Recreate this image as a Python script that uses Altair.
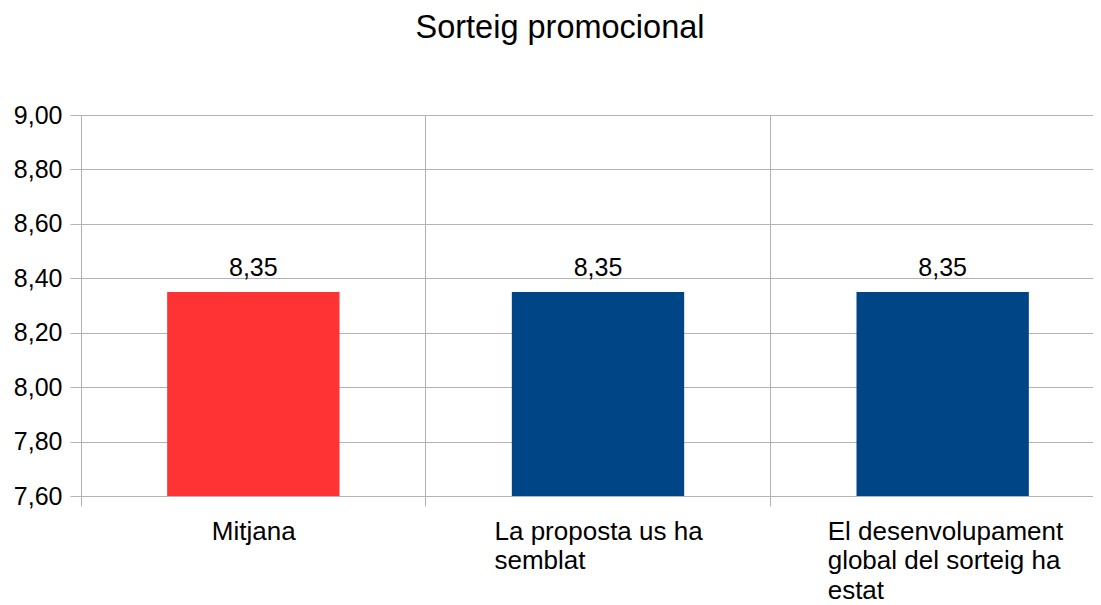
import altair as alt
import pandas as pd

# ---- data ----
categories = ["Mitjana", "La proposta us ha semblat", "El desenvolupament global del sorteig ha estat"]
values = [8.35, 8.35, 8.35]
bar_colors = ["#FF3333", "#004586", "#004586"]
label_lines = [["Mitjana"], ["La proposta us ha", "semblat"],
               ["El desenvolupament", "global del sorteig ha", "estat"]]
label_offsets = [-41.5, -103.5, -115]
y_ticks = [7.6, 7.8, 8.0, 8.2, 8.4, 8.6, 8.8, 9.0]
y_domain = [7.6, 9.0]
title_text = "Sorteig promocional"

df = pd.DataFrame({"cat": categories, "value": values})

FONT = "Liberation Sans"
GRID = "#b3b3b3"

# label expression -> multi-line arrays
expr = "''"
for c, lines in reversed(list(zip(categories, label_lines))):
    arr = "[" + ",".join("'" + l + "'" for l in lines) + "]"
    expr = f"datum.value === '{c}' ? {arr} : ({expr})"

offset_cond = {
    "condition": [
        {"test": f"datum.value === '{c}'", "value": o}
        for c, o in zip(categories[:-1], label_offsets[:-1])
    ],
    "value": label_offsets[-1],
}

x = alt.X(
    "cat:N",
    sort=categories,
    title=None,
    scale=alt.Scale(paddingInner=0, paddingOuter=0, range=[0, 1034]),
    axis=alt.Axis(
        labelExpr=expr,
        labelAngle=0,
        labelAlign="left",
        labelBaseline="top",
        labelOffset=offset_cond,
        labelFont=FONT,
        labelFontSize=26,
        labelColor="#000000",
        labelLineHeight=29.5,
        labelPadding=12,
        labelLimit=1000,
        labelOverlap=False,
        labelFlush=False,
        labelBound=False,
        bandPosition=0,
        ticks=True,
        tickSize=10,
        tickColor=GRID,
        tickWidth=1,
        domainColor=GRID,
        grid=True,
        gridColor=GRID,
        gridWidth=1,
    ),
)

y = alt.Y(
    "value:Q",
    title=None,
    scale=alt.Scale(domain=y_domain, nice=False, zero=False),
    axis=alt.Axis(
        values=y_ticks,
        labelExpr="replace(format(datum.value, '.2f'), '.', ',')",
        labelFont=FONT,
        labelFontSize=25,
        labelColor="#000000",
        labelPadding=8,
        tickSize=11,
        tickColor=GRID,
        domainColor=GRID,
        gridColor=GRID,
        grid=True,
    ),
)

base = alt.Chart(df)

bars = base.mark_bar(width=alt.RelativeBandSize(0.5)).encode(
    x=x,
    y=y,
    y2=alt.datum(y_domain[0]),
    color=alt.Color("cat:N", scale=alt.Scale(domain=categories, range=bar_colors), legend=None),
)

texts = base.transform_calculate(
    lbl="replace(format(datum.value, '.2f'), '.', ',')"
).mark_text(
    font=FONT, fontSize=25, color="#000000", baseline="alphabetic", dy=-16
).encode(
    x=alt.X("cat:N", sort=categories),
    y=alt.Y("value:Q"),
    text="lbl:N",
)

chart = (
    alt.layer(bars, texts)
    .properties(
        width=1012,
        height=381,
        autosize="none",
        padding={"left": 73, "top": 107, "right": 0, "bottom": 112},
        title=alt.TitleParams(
            title_text,
            font=FONT,
            fontSize=32.5,
            fontWeight="normal",
            color="#000000",
            anchor="middle",
            baseline="alphabetic",
            dx=-27,
            offset=33,
        ),
    )
    .configure_view(stroke=None)
    .configure(background="#ffffff")
)

chart.save("out.html", embed_options={"renderer": "svg", "actions": False})
